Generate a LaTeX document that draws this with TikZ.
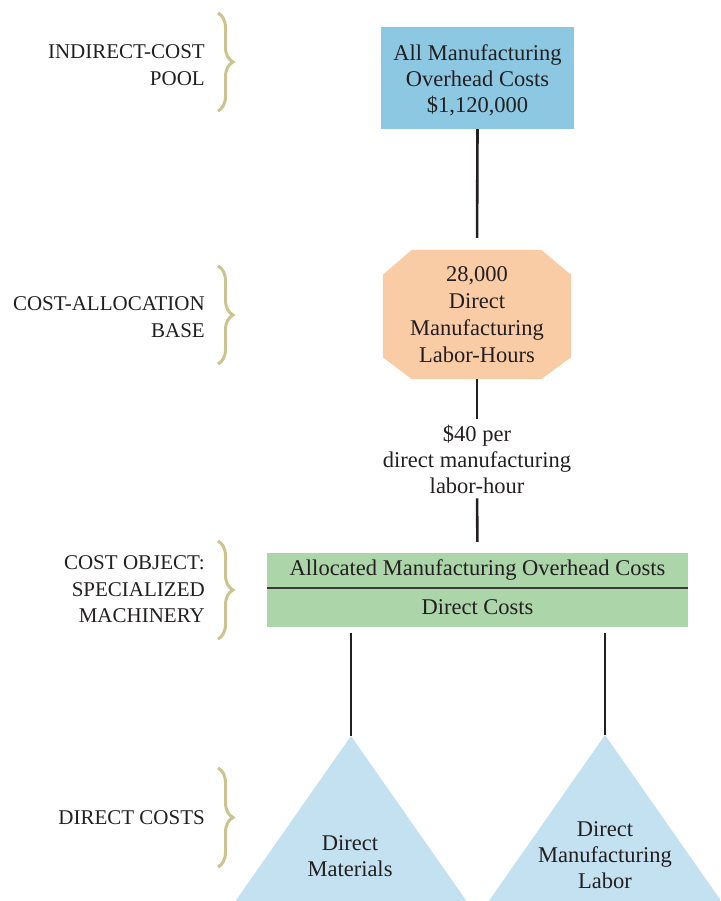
\documentclass[tikz,border=0pt]{standalone}
\usepackage{fontspec}
\setmainfont{Liberation Serif}
\usetikzlibrary{decorations.pathreplacing,backgrounds}
\definecolor{txt}{HTML}{231F20}
\definecolor{boxblue}{HTML}{8DC8E3}
\definecolor{octorange}{HTML}{FACCA6}
\definecolor{boxgreen}{HTML}{ACD6AA}
\definecolor{trifill}{HTML}{C3E1F0}
\definecolor{bracecol}{HTML}{CDC38E}
\definecolor{divline}{HTML}{3A3A3A}
\begin{document}
\begin{tikzpicture}[x=1pt,y=-1pt,
  mainfont/.style={font=\fontsize{22.5}{26}\selectfont},
  lblfont/.style={font=\fontsize{21}{26.5}\selectfont},
  conn/.style={draw=txt, line width=2.6pt},
  thinconn/.style={draw=txt, line width=2.3pt},
  lbl/.style={lblfont, text=txt, align=right, anchor=east, inner sep=0pt},
  bracestyle/.style={draw=bracecol, line width=3pt, decorate, decoration={brace, amplitude=15pt, aspect=0.5}},
  intext/.style={mainfont, text=txt, align=center, inner sep=0pt}]
\useasboundingbox (0,0) rectangle (720,901);
\clip (0,0) rectangle (720,901);

% left labels
\node[lbl] (lpool) at (205,65) {INDIRECT-COST\\POOL};
\node[lbl] (lbase) at (205,317) {COST-ALLOCATION\\BASE};
\node[lbl] (lobj) at (205,589.5) {COST OBJECT:\\SPECIALIZED\\MACHINERY};
\node[lbl] (ldir) at (205,818) {DIRECT COSTS};

% braces
\draw[bracestyle] (218,13) -- (218,111);
\draw[bracestyle] (218,266) -- (218,364);
\draw[bracestyle] (218,541) -- (218,639);
\draw[bracestyle] (218,768) -- (218,867);

% indirect cost pool
\node[fill=boxblue, minimum width=193pt, minimum height=102pt, inner sep=0pt] (pool) at (477.5,78) {};
\node[intext] (pooltext) at ([yshift=-2.5pt]pool.center)
  {All Manufacturing\\Overhead Costs\\\$1,120,000};

% cost allocation base (octagon)
\node[intext, font=\fontsize{22.5}{27}\selectfont, minimum width=188pt, minimum height=129pt] (base) at (477,314.5)
  {28,000\\Direct\\Manufacturing\\Labor-Hours};
\begin{scope}[on background layer]
\fill[octorange] ([xshift=29pt]base.north west) -- ([xshift=-30pt]base.north east)
  -- ([yshift=-25pt]base.north east) -- ([yshift=22pt]base.south east)
  -- ([xshift=-30pt]base.south east) -- ([xshift=29pt]base.south west)
  -- ([yshift=22pt]base.south west) -- ([yshift=-25pt]base.north west) -- cycle;
\end{scope}

% rate
\node[intext] (rate) at (477,459) {\$40 per\\direct manufacturing\\labor-hour};

% cost object
\node[intext, fill=boxgreen, minimum width=421pt, minimum height=35pt] (alloc) at (477.5,570.5)
  {Allocated Manufacturing Overhead Costs};
\node[intext, fill=boxgreen, minimum width=421pt, minimum height=39pt] (direct) at (477.5,607.5)
  {Direct Costs};
\draw[divline, line width=1.5pt] (alloc.south west) -- (alloc.south east);

% direct cost triangles
\coordinate (apexa) at (351,736);
\coordinate (apexb) at (605,735);
\fill[trifill] (apexa) -- ++(119,170) -- ++(-238,0) -- cycle;
\fill[trifill] (apexb) -- ++(119,170) -- ++(-238,0) -- cycle;
\node[intext] (mat) at (350,856.5) {Direct\\Materials};
\node[intext] (lab) at (605,855) {Direct\\Manufacturing\\Labor};

% connectors
\draw[conn, shorten >=12pt] (pool.south) -- (base.north);
\draw[conn, shorten >=6pt] (base.south) -- (rate.north);
\draw[conn, shorten <=5pt, shorten >=11pt] (rate.south) -- (alloc.north);
\draw[thinconn, shorten <=6pt] (apexa |- direct.south) -- (apexa);
\draw[thinconn, shorten <=6pt] (apexb |- direct.south) -- (apexb);
\end{tikzpicture}
\end{document}
